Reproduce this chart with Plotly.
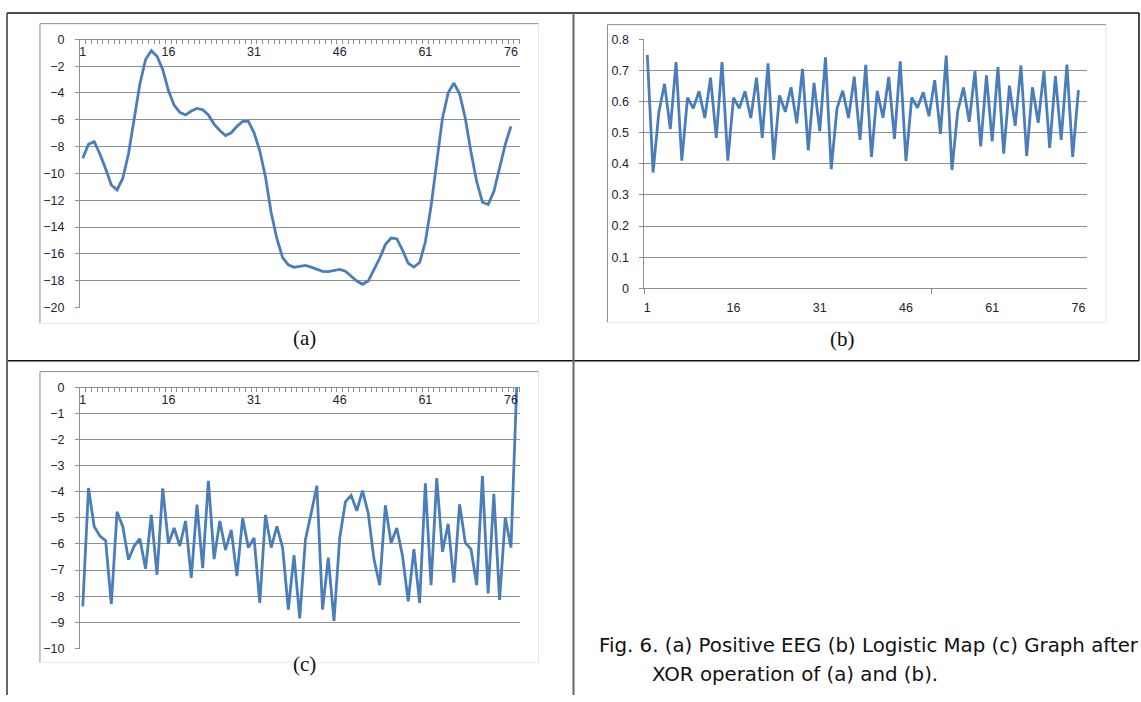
import plotly.graph_objects as go

W, H = 1141, 702

# ---------------- data ----------------
tick_labels = ["1", "16", "31", "46", "61", "76"]
tick_positions = [1, 16, 31, 46, 61, 76]

eeg_a = [-8.87, -7.83, -7.63, -8.55, -9.65, -10.86, -11.23, -10.38, -8.55, -5.88,
         -3.33, -1.50, -0.85, -1.26, -2.24, -3.82, -4.91, -5.44, -5.64, -5.35,
         -5.15, -5.25, -5.64, -6.32, -6.80, -7.17, -6.97, -6.49, -6.12, -6.12,
         -6.97, -8.31, -10.26, -12.93, -14.87, -16.28, -16.82, -17.01, -16.96, -16.86,
         -16.99, -17.16, -17.30, -17.33, -17.25, -17.16, -17.30, -17.67, -18.03, -18.27,
         -18.03, -17.18, -16.33, -15.31, -14.82, -14.87, -15.72, -16.70, -16.99, -16.65,
         -15.12, -12.44, -9.04, -5.88, -3.99, -3.26, -4.06, -5.88, -8.43, -10.62,
         -12.15, -12.32, -11.35, -9.65, -7.83, -6.49]

logistic_b = [0.750, 0.372, 0.565, 0.657, 0.512, 0.727, 0.410, 0.613, 0.578, 0.633,
              0.547, 0.677, 0.483, 0.727, 0.410, 0.613, 0.578, 0.633, 0.547, 0.677,
              0.483, 0.723, 0.413, 0.620, 0.567, 0.646, 0.530, 0.705, 0.443, 0.660,
              0.504, 0.742, 0.383, 0.578, 0.635, 0.547, 0.680, 0.477, 0.718, 0.422,
              0.634, 0.548, 0.679, 0.480, 0.729, 0.409, 0.613, 0.580, 0.630, 0.553,
              0.669, 0.496, 0.748, 0.380, 0.569, 0.645, 0.535, 0.698, 0.456, 0.684,
              0.472, 0.711, 0.433, 0.651, 0.522, 0.716, 0.425, 0.646, 0.532, 0.698,
              0.451, 0.682, 0.477, 0.719, 0.422, 0.637]

xor_c = [-8.39, -3.86, -5.33, -5.70, -5.87, -8.30, -4.77, -5.33, -6.60, -6.08,
         -5.80, -6.95, -4.89, -7.18, -3.87, -5.99, -5.39, -6.08, -5.12, -7.30,
         -4.49, -6.93, -3.58, -6.58, -5.12, -6.23, -5.46, -7.23, -5.02, -6.14,
         -5.77, -8.26, -4.89, -6.14, -5.33, -6.14, -8.51, -6.43, -8.85, -5.83,
         -4.83, -3.77, -8.51, -6.52, -8.95, -5.77, -4.39, -4.14, -4.73, -3.96,
         -4.83, -6.58, -7.58, -4.52, -5.96, -5.39, -6.45, -8.20, -6.20, -8.26,
         -3.68, -7.58, -3.48, -6.30, -5.23, -7.48, -4.48, -5.96, -6.20, -7.58,
         -3.40, -7.89, -4.08, -8.14, -4.99, -6.14, 0.0]

x_a = list(range(1, len(eeg_a) + 1))
x_b = list(range(1, len(logistic_b) + 1))
x_c = list(range(1, len(xor_c) + 1))
n_categories = 77

caption_line1 = "Fig. 6. (a) Positive EEG (b) Logistic Map (c) Graph after"
caption_line2 = "XOR operation of (a) and (b)."

# ---------------- helpers (layout only) ----------------
def fx(p):
    return p / W

def fy(p):
    return 1 - p / H

LINE = "#4A7EBB"
GRID = "#8F8F8F"
AX = "#8F8F8F"
TXT = "#222233"
TICKFONT = dict(family="Liberation Sans, Arial, sans-serif", size=12.5, color=TXT)

fig = go.Figure()
fig.add_trace(go.Scatter(x=x_a, y=eeg_a, mode="lines", line=dict(color=LINE, width=2.8),
                         xaxis="x", yaxis="y", showlegend=False, hoverinfo="skip"))
fig.add_trace(go.Scatter(x=x_b, y=logistic_b, mode="lines", line=dict(color=LINE, width=2.8),
                         xaxis="x2", yaxis="y2", showlegend=False, hoverinfo="skip"))
fig.add_trace(go.Scatter(x=x_c, y=xor_c, mode="lines", line=dict(color=LINE, width=2.8),
                         xaxis="x3", yaxis="y3", showlegend=False, hoverinfo="skip"))

def top_xaxis(domain, top_px):
    # category axis crossing at value 0, i.e. at the top of the plot area,
    # labels hanging below the axis line
    return dict(domain=domain, anchor="free", position=fy(top_px), side="bottom",
                range=[0.5, n_categories + 0.5],
                tickmode="array", tickvals=tick_positions, ticktext=tick_labels,
                ticks="outside", ticklen=0, tickcolor=AX,
                ticklabelstandoff=1,
                showline=True, linecolor=AX, linewidth=1,
                showgrid=False, zeroline=False, tickfont=TICKFONT,
                minor=dict(tickmode="linear", tick0=0.5, dtick=1, ticks="outside",
                           ticklen=4, tickcolor=AX, showgrid=False))

def left_yaxis(domain, anchor, rng, dtick):
    return dict(domain=domain, anchor=anchor, range=rng, dtick=dtick, tick0=0,
                showgrid=True, gridcolor=GRID, gridwidth=1,
                showline=True, linecolor=AX, linewidth=1,
                ticks="outside", ticklen=4, tickcolor=AX,
                ticklabelstandoff=8,
                zeroline=False, tickfont=TICKFONT)

dom_x_left = [fx(79), fx(519)]
dom_x_right = [fx(644), fx(1087)]

fig.update_layout(
    width=W, height=H, autosize=False,
    margin=dict(l=0, r=0, t=0, b=0),
    paper_bgcolor="white", plot_bgcolor="white",
    xaxis=top_xaxis(dom_x_left, 33),
    yaxis=left_yaxis([fy(307), fy(33)], "x", [-20.03, 0], 2),
    xaxis2=dict(domain=dom_x_right, anchor="y2", range=[0.5, n_categories + 0.5],
                tickmode="array", tickvals=tick_positions, ticktext=tick_labels,
                ticks="outside", ticklen=0, tickcolor=AX, ticklabelstandoff=8,
                showline=True, linecolor=AX, linewidth=1,
                showgrid=False, zeroline=False, tickfont=TICKFONT,
                minor=dict(tickmode="array", tickvals=[0.5, 50.5], ticks="outside",
                           ticklen=5, tickcolor=AX, showgrid=False)),
    yaxis2=left_yaxis([fy(287), fy(33)], "x2", [0, 0.8], 0.1),
    xaxis3=top_xaxis(dom_x_left, 388),
    yaxis3=left_yaxis([fy(655), fy(388)], "x3", [-10.02, 0], 1),
)

shapes = []
# chart area frames (darker top/left, faint bottom/right)
for (x0, y0, x1, y1) in [(39, 17, 538, 323), (607, 18, 1106, 322), (39, 372, 538, 669)]:
    shapes.append(dict(type="line", xref="paper", yref="paper", x0=fx(x0), x1=fx(x1), y0=fy(y0), y1=fy(y0),
                       line=dict(color="#8C8C8C", width=1)))
    shapes.append(dict(type="line", xref="paper", yref="paper", x0=fx(x0), x1=fx(x0), y0=fy(y0), y1=fy(y1),
                       line=dict(color="#8C8C8C", width=1)))
    shapes.append(dict(type="line", xref="paper", yref="paper", x0=fx(x1), x1=fx(x1), y0=fy(y0), y1=fy(y1),
                       line=dict(color="#E6E6E6", width=1)))
    shapes.append(dict(type="line", xref="paper", yref="paper", x0=fx(x0), x1=fx(x1), y0=fy(y1), y1=fy(y1),
                       line=dict(color="#ECECEC", width=1)))

# table lines
def tline(x0, y0, x1, y1, color="#111111", width=1.5):
    shapes.append(dict(type="line", xref="paper", yref="paper",
                       x0=fx(x0), x1=fx(x1), y0=fy(y0), y1=fy(y1),
                       line=dict(color=color, width=width)))

tline(6, 6, 1139, 6)
tline(6, 361, 1139, 361)
tline(1139, 6, 1139, 361)
tline(6, 6, 6, 702, color="#666666", width=2)
tline(573, 6, 573, 702, color="#666666", width=2)

annotations = [
    dict(text="(a)", x=fx(290), y=fy(338), xref="paper", yref="paper", showarrow=False,
         font=dict(family="Liberation Serif, DejaVu Serif, serif", size=21, color="#111111")),
    dict(text="(b)", x=fx(857), y=fy(339), xref="paper", yref="paper", showarrow=False,
         font=dict(family="Liberation Serif, DejaVu Serif, serif", size=21, color="#111111")),
    dict(text="(c)", x=fx(290), y=fy(685), xref="paper", yref="paper", showarrow=False,
         font=dict(family="Liberation Serif, DejaVu Serif, serif", size=21, color="#111111")),
    dict(text=caption_line1, x=fx(597), y=fy(652), xref="paper", yref="paper", showarrow=False,
         xanchor="left", yanchor="middle",
         font=dict(family="DejaVu Sans, sans-serif", size=19.8, color="#111111")),
    dict(text=caption_line2, x=fx(650), y=fy(681), xref="paper", yref="paper", showarrow=False,
         xanchor="left", yanchor="middle",
         font=dict(family="DejaVu Sans, sans-serif", size=19.8, color="#111111")),
]

fig.update_layout(shapes=shapes, annotations=annotations)
fig.write_html("out.html", config={"displayModeBar": False},
               post_script="document.body.style.margin='0';document.body.style.overflow='hidden';")
